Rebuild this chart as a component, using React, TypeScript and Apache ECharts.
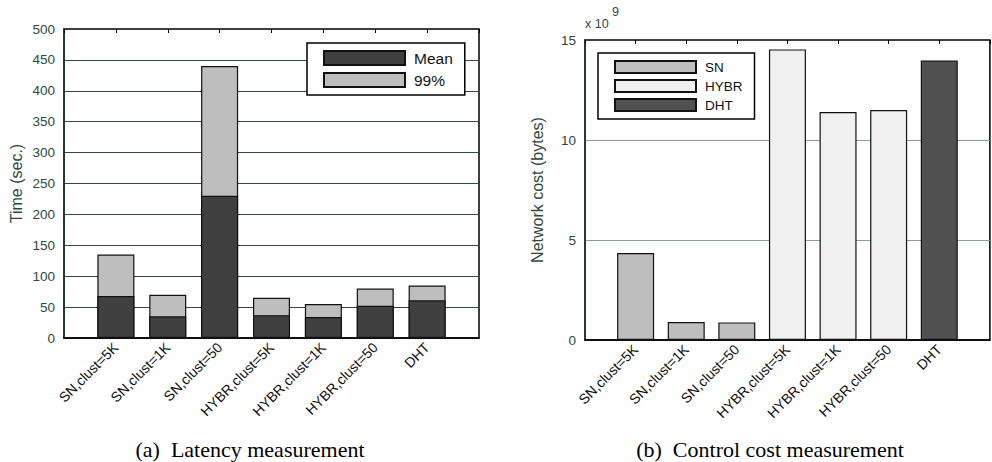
import React, { useEffect, useRef } from "react";
import * as echarts from "echarts";

const categories = [
  "SN,clust=5K",
  "SN,clust=1K",
  "SN,clust=50",
  "HYBR,clust=5K",
  "HYBR,clust=1K",
  "HYBR,clust=50",
  "DHT",
];
const meanLatency = [68, 35, 230, 37, 34, 52, 61];
const p99Latency = [135, 70, 440, 65, 55, 80, 85];
const netCost = [4.35e9, 0.9e9, 0.88e9, 14.53e9, 11.4e9, 11.5e9, 13.98e9];
const costGroup = ["SN", "SN", "SN", "HYBR", "HYBR", "HYBR", "DHT"];
const costGroups = ["SN", "HYBR", "DHT"];
const costColors: Record<string, string> = { SN: "#bebebe", HYBR: "#f0f0f0", DHT: "#505050" };

const SANS = "Liberation Sans, Arial, sans-serif";
const SERIF = "Liberation Serif, Times New Roman, serif";
const TICK_GREEN = "#2b4a3b";
const AXIS_GREEN = "#1c3a2c";

function xAxes(gridIndex: number) {
  return [
    {
      type: "value",
      gridIndex,
      min: 0,
      max: 8,
      interval: 1,
      position: "bottom",
      axisLine: { show: true, lineStyle: { color: "#000", width: 1.5 } },
      axisTick: { show: false },
      splitLine: { show: false },
      axisLabel: {
        rotate: 45,
        margin: 7,
        fontSize: 14,
        fontFamily: SANS,
        color: "#111",
        formatter: (v: number) => categories[v - 1] ?? "",
      },
    },
    {
      type: "value",
      gridIndex,
      min: 0,
      max: 8,
      interval: 1,
      position: "top",
      axisLine: { show: false },
      axisTick: { show: true, inside: true, length: 4, lineStyle: { color: "#000" } },
      splitLine: { show: false },
      axisLabel: { show: false },
    },
  ];
}

export default function App() {
  const ref = useRef<HTMLDivElement>(null);
  useEffect(() => {
    if (!ref.current) return;
    const chart = echarts.init(ref.current, undefined, { renderer: "svg" });
    const barBase = {
      type: "bar",
      barWidth: 37,
      barGap: "-100%",
      itemStyle: { borderColor: "#111", borderWidth: 1.2 },
    };
    const costSeries = costGroups.map((g) => ({
      ...barBase,
      name: g,
      xAxisIndex: 2,
      yAxisIndex: 1,
      itemStyle: { ...barBase.itemStyle, color: costColors[g] },
      data: netCost
        .map((v, i) => (costGroup[i] === g ? [i + 1, v] : null))
        .filter((d) => d !== null),
    }));
    chart.setOption({
      animation: false,
      backgroundColor: "#fff",
      grid: [
        { left: 64, top: 29, width: 415, height: 309, show: true, borderColor: "#000", borderWidth: 1.5, backgroundColor: "#fff" },
        { left: 585, top: 40, width: 415, height: 300, show: true, borderColor: "#000", borderWidth: 1.5, backgroundColor: "#fff" },
      ],
      xAxis: [...xAxes(0), ...xAxes(1)],
      yAxis: [
        {
          type: "value",
          gridIndex: 0,
          min: 0,
          max: 500,
          interval: 50,
          name: "Time (sec.)",
          nameLocation: "middle",
          nameGap: 40,
          nameTextStyle: { fontSize: 16, fontFamily: SANS, color: TICK_GREEN },
          axisLine: { show: true, lineStyle: { color: AXIS_GREEN, width: 1.5 } },
          axisTick: { show: false },
          axisLabel: { fontSize: 13.5, fontFamily: SANS, color: TICK_GREEN, margin: 9 },
          splitLine: { show: true, showMinLine: false, showMaxLine: false, lineStyle: { color: "#2f4c3e", width: 1 } },
        },
        {
          type: "value",
          gridIndex: 1,
          min: 0,
          max: 15e9,
          interval: 5e9,
          name: "Network cost (bytes)",
          nameLocation: "middle",
          nameGap: 40,
          nameTextStyle: { fontSize: 16, fontFamily: SANS, color: TICK_GREEN },
          axisLine: { show: true, lineStyle: { color: AXIS_GREEN, width: 1.5 } },
          axisTick: { show: false },
          axisLabel: {
            fontSize: 13.5,
            fontFamily: SANS,
            color: TICK_GREEN,
            margin: 9,
            formatter: (v: number) => String(Math.round(v / 1e9)),
          },
          splitLine: { show: true, showMinLine: false, showMaxLine: false, lineStyle: { color: "#87a096", width: 1 } },
        },
      ],
      legend: [
        {
          data: ["Mean", "99%"],
          orient: "vertical",
          left: 307,
          top: 43,
          padding: [7, 12, 7, 16],
          itemWidth: 81,
          itemHeight: 14,
          itemGap: 6,
          borderColor: "#000",
          borderWidth: 1.5,
          backgroundColor: "#fff",
          icon: "rect",
          textStyle: { fontSize: 15.5, fontFamily: SANS, color: "#111", padding: [0, 0, 0, 4] },
        },
        {
          data: costGroups,
          orient: "vertical",
          left: 598,
          top: 53,
          padding: [7, 12, 7, 16],
          itemWidth: 81,
          itemHeight: 12,
          itemGap: 5,
          borderColor: "#000",
          borderWidth: 1.5,
          backgroundColor: "#fff",
          icon: "rect",
          textStyle: { fontSize: 13.5, fontFamily: SANS, color: "#111", padding: [0, 0, 0, 4] },
        },
      ],
      series: [
        {
          ...barBase,
          name: "99%",
          xAxisIndex: 0,
          yAxisIndex: 0,
          itemStyle: { ...barBase.itemStyle, color: "#bebebe" },
          data: p99Latency.map((v, i) => [i + 1, v]),
        },
        {
          ...barBase,
          name: "Mean",
          xAxisIndex: 0,
          yAxisIndex: 0,
          itemStyle: { ...barBase.itemStyle, color: "#404040" },
          data: meanLatency.map((v, i) => [i + 1, v]),
        },
        ...costSeries,
      ],
      graphic: [
        { type: "text", left: 585, top: 17, style: { text: "x 10", fontSize: 12.5, fontFamily: SANS, fill: TICK_GREEN } },
        { type: "text", left: 612, top: 5, style: { text: "9", fontSize: 12.5, fontFamily: SANS, fill: TICK_GREEN } },
        {
          type: "text",
          x: 250,
          y: 449,
          style: { text: "(a)  Latency measurement", fontSize: 22, fontFamily: SERIF, fill: "#000", align: "center", verticalAlign: "middle" },
        },
        {
          type: "text",
          x: 770,
          y: 449,
          style: { text: "(b)  Control cost measurement", fontSize: 22, fontFamily: SERIF, fill: "#000", align: "center", verticalAlign: "middle" },
        },
      ],
    });
    return () => chart.dispose();
  }, []);
  return (
    <div
      ref={ref}
      style={{ position: "fixed", left: 0, top: 0, width: 992, height: 462, background: "#fff" }}
    />
  );
}
